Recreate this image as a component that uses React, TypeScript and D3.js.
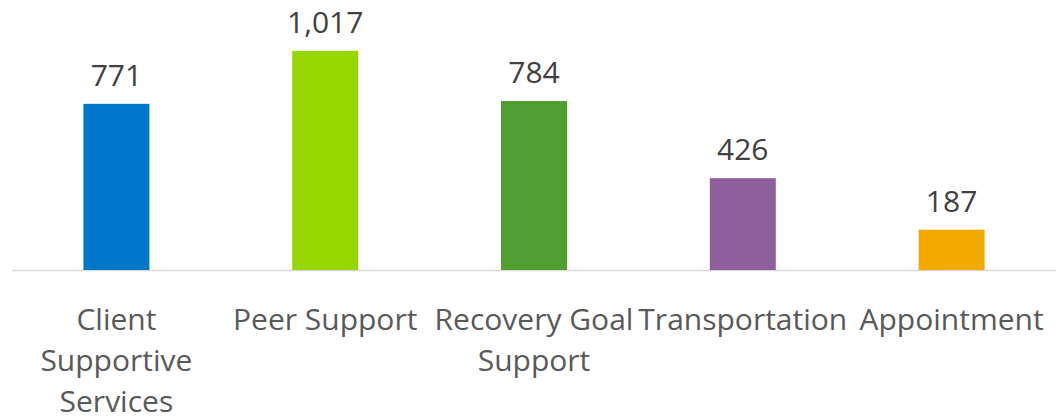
import React from "react";
import * as d3 from "d3";

const categories = ["Client Supportive Services", "Peer Support", "Recovery Goal Support", "Transportation", "Appointment"];
const values = [771, 1017, 784, 426, 187];
const colors = ["#0077C8", "#97D700", "#509E2F", "#8F5E9C", "#F2A900"];

const W = 1058;
const H = 417;
const FONT = "'Open Sans', 'Noto Sans', sans-serif";
const FS = 30;

function wrap(text: string, maxW: number): string[] {
  const c = document.createElement("canvas").getContext("2d")!;
  c.font = `${FS}px ${FONT}`;
  const words = text.split(" ");
  const lines: string[] = [];
  let cur = "";
  for (const w of words) {
    const t = cur ? cur + " " + w : w;
    if (cur && c.measureText(t).width > maxW) {
      lines.push(cur);
      cur = w;
    } else cur = t;
  }
  if (cur) lines.push(cur);
  return lines;
}

export default function App() {
  const x = d3.scaleBand<string>().domain(categories).range([12, 1056]).paddingInner(0.684).paddingOuter(0.342);
  const y = d3.scaleLinear().domain([0, 1200]).range([270, 11.4]);
  const fmt = d3.format(",");
  return (
    <svg width={W} height={H} style={{ position: "absolute", left: 0, top: 0 }} fontFamily={FONT}>
      <rect width={W} height={H} fill="#fff" />
      <line x1={12} x2={1056} y1={270.5} y2={270.5} stroke="#d9d9d9" strokeWidth={1.5} />
      {categories.map((c, i) => {
        const bx = x(c)!;
        const cx = bx + x.bandwidth() / 2;
        const lines = wrap(c, x.step() + 4);
        return (
          <g key={c}>
            <rect x={bx} y={y(values[i])} width={x.bandwidth()} height={270 - y(values[i])} fill={colors[i]} />
            <text x={cx} y={y(values[i]) - 18} textAnchor="middle" fontSize={FS} fill="#404040">
              {fmt(values[i])}
            </text>
            <text textAnchor="middle" fontSize={FS} fill="#595959">
              {lines.map((l, j) => (
                <tspan key={j} x={cx} y={330 + j * 41}>{l}</tspan>
              ))}
            </text>
          </g>
        );
      })}
    </svg>
  );
}
